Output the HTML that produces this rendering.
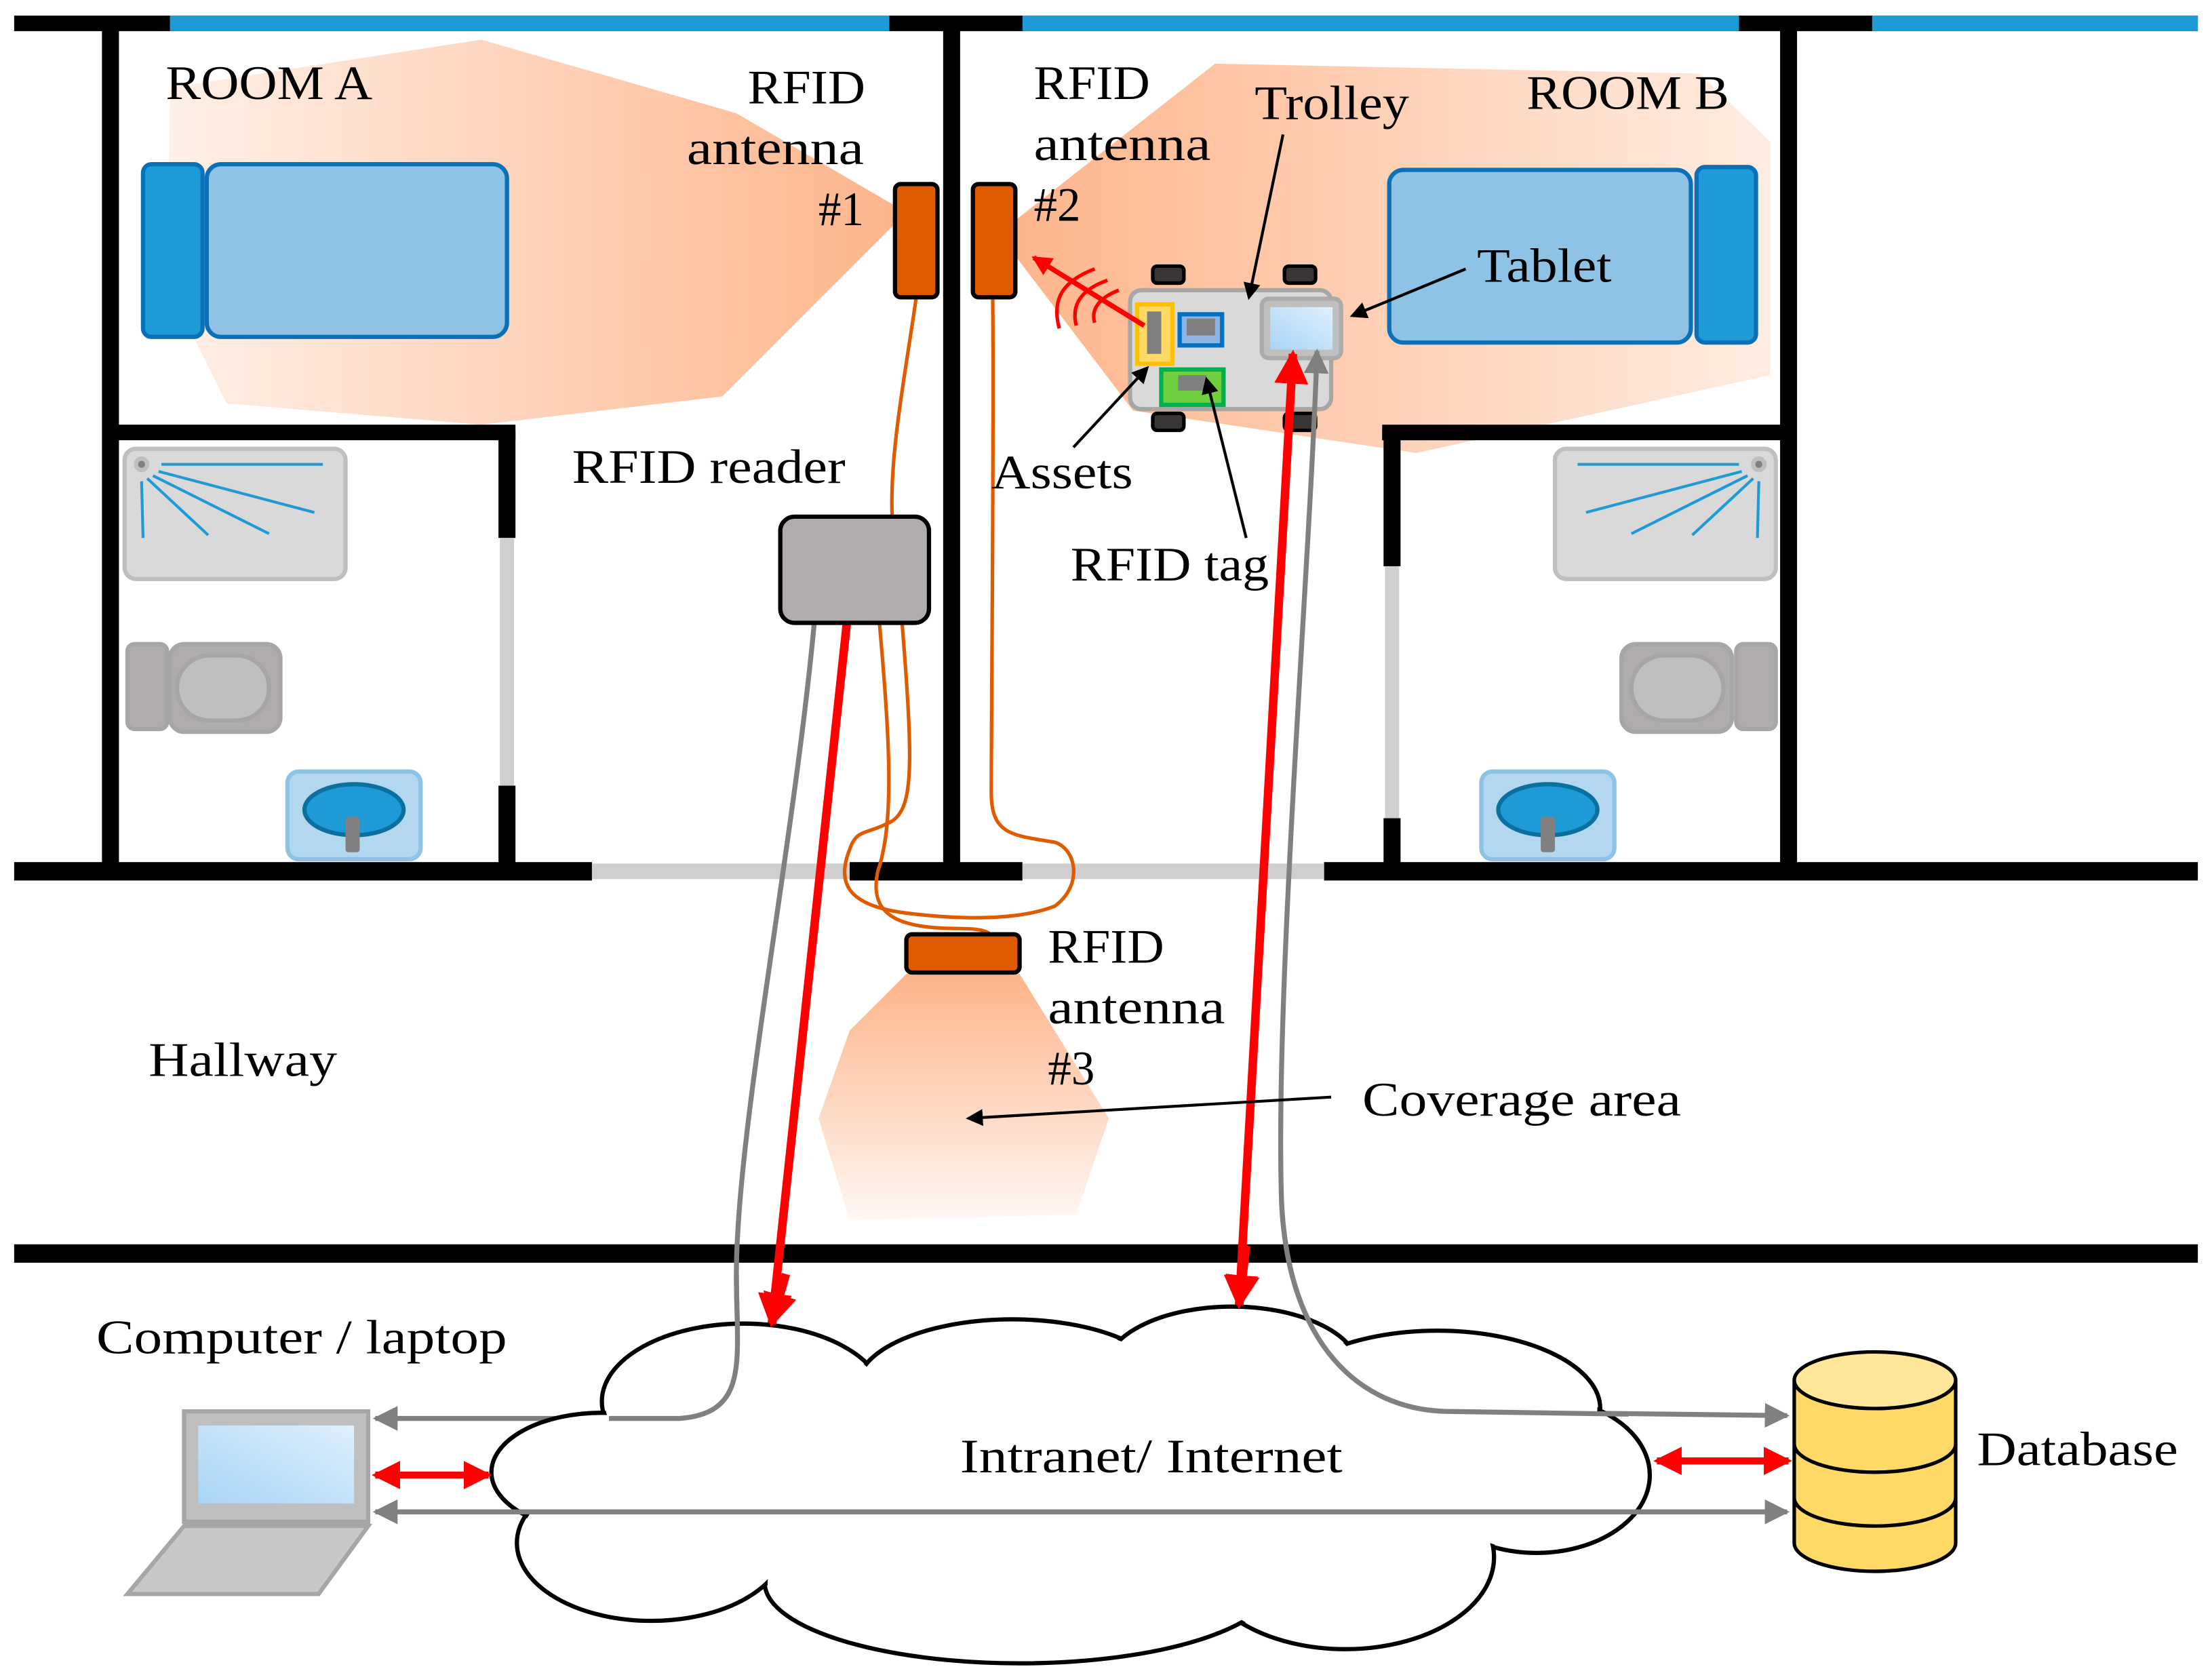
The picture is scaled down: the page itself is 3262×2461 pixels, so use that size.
<!DOCTYPE html>
<html><head><meta charset="utf-8"><style>html,body{margin:0;padding:0;background:#fff}svg{display:block}</style></head><body>
<svg width="3262" height="2461" viewBox="0 0 1562 1179" preserveAspectRatio="none" xmlns="http://www.w3.org/2000/svg" font-family="Liberation Serif, serif" font-size="34">
<defs>
<linearGradient id="gA" x1="1" y1="0" x2="0" y2="0"><stop offset="0" stop-color="#fdb48a"/><stop offset="1" stop-color="#fdb48a" stop-opacity="0.2"/></linearGradient>
<linearGradient id="gB" x1="0" y1="0" x2="1" y2="0"><stop offset="0" stop-color="#fdb48a"/><stop offset="1" stop-color="#fdb48a" stop-opacity="0.25"/></linearGradient>
<linearGradient id="gH" x1="0" y1="0" x2="0" y2="1"><stop offset="0" stop-color="#fdb48a"/><stop offset="1" stop-color="#fdb48a" stop-opacity="0.1"/></linearGradient>
<linearGradient id="scr" x1="0" y1="1" x2="1" y2="0"><stop offset="0" stop-color="#a9d4f5"/><stop offset="1" stop-color="#e0f0fc"/></linearGradient>
<marker id="ab" markerWidth="6" markerHeight="6" refX="5" refY="3" orient="auto-start-reverse" markerUnits="strokeWidth"><path d="M0,0 L6,3 L0,6 z" fill="#000"/></marker>
<marker id="ar" markerWidth="4" markerHeight="4" refX="3.5" refY="2" orient="auto-start-reverse" markerUnits="strokeWidth"><path d="M0,0 L4,2 L0,4 z" fill="#f00"/></marker>
<marker id="ag" markerWidth="5" markerHeight="5" refX="4.5" refY="2.5" orient="auto-start-reverse" markerUnits="strokeWidth"><path d="M0,0 L5,2.5 L0,5 z" fill="#808080"/></marker>
</defs>
<!-- coverage -->
<polygon points="120,62 340,28 520,80 640,150 510,280 340,300 160,285 118,200" fill="url(#gA)"/>
<polygon points="705,165 858,45 1200,52 1250,100 1250,265 1000,320 800,290" fill="url(#gB)"/>
<polygon points="640,688 720,688 783,790 760,858 600,862 578,790 600,728" fill="url(#gH)"/>
<!-- walls -->
<g fill="#000">
<rect x="10" y="11" width="1542" height="11"/>
<rect x="72" y="16" width="12" height="600"/>
<rect x="666" y="16" width="12" height="600"/>
<rect x="1257" y="16" width="12" height="600"/>
<rect x="78" y="300" width="286" height="11"/>
<rect x="352" y="305" width="12" height="75"/><rect x="352" y="555" width="12" height="60"/>
<rect x="976" y="300" width="290" height="11"/>
<rect x="977" y="305" width="12" height="95"/><rect x="977" y="578" width="12" height="38"/>
<rect x="10" y="609" width="408" height="13"/><rect x="600" y="609" width="122" height="13"/><rect x="935" y="609" width="617" height="13"/>
<rect x="10" y="879" width="1542" height="13"/>
</g>
<g fill="#1e9bd7"><rect x="120" y="11" width="508" height="11"/><rect x="722" y="11" width="506" height="11"/><rect x="1322" y="11" width="230" height="11"/></g>
<g fill="#d0cece"><rect x="418" y="610" width="182" height="11"/><rect x="722" y="610" width="213" height="11"/><rect x="353" y="380" width="10" height="175"/><rect x="978" y="400" width="10" height="178"/></g>
<!-- beds -->
<rect x="101" y="116" width="42" height="122" rx="6" fill="#1e9bd7" stroke="#0a70b8" stroke-width="3"/>
<rect x="146" y="116" width="212" height="122" rx="10" fill="#8fc3e6" stroke="#0a70b8" stroke-width="3"/>
<rect x="981" y="120" width="213" height="122" rx="10" fill="#8fc3e6" stroke="#0a70b8" stroke-width="3"/>
<rect x="1198" y="118" width="42" height="124" rx="6" fill="#1e9bd7" stroke="#0a70b8" stroke-width="3"/>
<!-- bathroom A -->
<rect x="88" y="317" width="156" height="92" rx="8" fill="#d9d9d9" stroke="#bfbfbf" stroke-width="3"/>
<circle cx="100" cy="328" r="4" fill="#808080" stroke="#bfbfbf" stroke-width="3"/>
<g stroke="#1e9bd7" stroke-width="2"><line x1="114" y1="328" x2="228" y2="328"/><line x1="112" y1="333" x2="222" y2="362"/><line x1="108" y1="336" x2="190" y2="377"/><line x1="104" y1="338" x2="147" y2="378"/><line x1="100" y1="340" x2="101" y2="380"/></g>
<rect x="90" y="455" width="28" height="60" rx="5" fill="#b0acab" stroke="#a6a6a6" stroke-width="3"/>
<rect x="120" y="455" width="78" height="62" rx="10" fill="#b0acab" stroke="#a6a6a6" stroke-width="3"/>
<rect x="125" y="463" width="65" height="46" rx="23" fill="#bfbfbf" stroke="#a6a6a6" stroke-width="3"/>
<rect x="203" y="545" width="94" height="62" rx="8" fill="#b3d7ef" stroke="#8fc3e6" stroke-width="3"/>
<ellipse cx="250" cy="572" rx="35" ry="18" fill="#1e9bd7" stroke="#0a70a0" stroke-width="3"/>
<rect x="244" y="577" width="10" height="25" rx="2" fill="#808080"/>
<!-- bathroom B -->
<rect x="1098" y="317" width="156" height="92" rx="8" fill="#d9d9d9" stroke="#bfbfbf" stroke-width="3"/>
<circle cx="1242" cy="328" r="4" fill="#808080" stroke="#bfbfbf" stroke-width="3"/>
<g stroke="#1e9bd7" stroke-width="2"><line x1="1228" y1="328" x2="1114" y2="328"/><line x1="1230" y1="333" x2="1120" y2="362"/><line x1="1234" y1="336" x2="1152" y2="377"/><line x1="1238" y1="338" x2="1195" y2="378"/><line x1="1242" y1="340" x2="1241" y2="380"/></g>
<rect x="1145" y="455" width="78" height="62" rx="10" fill="#b0acab" stroke="#a6a6a6" stroke-width="3"/>
<rect x="1152" y="463" width="65" height="46" rx="23" fill="#bfbfbf" stroke="#a6a6a6" stroke-width="3"/>
<rect x="1226" y="455" width="28" height="60" rx="5" fill="#b0acab" stroke="#a6a6a6" stroke-width="3"/>
<rect x="1046" y="545" width="94" height="62" rx="8" fill="#b3d7ef" stroke="#8fc3e6" stroke-width="3"/>
<ellipse cx="1093" cy="572" rx="35" ry="18" fill="#1e9bd7" stroke="#0a70a0" stroke-width="3"/>
<rect x="1088" y="577" width="10" height="25" rx="2" fill="#808080"/>
<!-- cables orange -->
<g fill="none" stroke="#e05a00" stroke-width="2.5">
<path d="M647,210 C640,260 628,320 630,365"/>
<path d="M621,440 C628,520 632,580 620,615 C612,650 640,656 680,656 C705,656 705,665 694,672"/>
<path d="M637,440 C645,540 645,570 630,580 C612,590 605,585 600,600 C590,625 600,640 640,645 C680,650 720,650 745,640 C765,625 760,600 745,595 C715,590 700,590 700,560 C700,500 702,300 701,210"/>
</g>
<!-- gray & red lines -->
<path d="M575,440 C560,600 520,800 520,900 C520,960 530,998 480,1002 L265,1002" fill="none" stroke="#808080" stroke-width="3.5" marker-end="url(#ag)"/>
<line x1="598" y1="440" x2="545" y2="935" stroke="#f00" stroke-width="6" marker-end="url(#ar)"/>
<!-- trolley -->
<g fill="#3a3636" stroke="#000" stroke-width="2.5"><rect x="814" y="188" width="22" height="12" rx="3"/><rect x="907" y="188" width="22" height="12" rx="3"/><rect x="814" y="292" width="22" height="12" rx="3"/><rect x="907" y="292" width="22" height="12" rx="3"/></g>
<rect x="798" y="205" width="142" height="84" rx="8" fill="#d9d9d9" stroke="#a6a6a6" stroke-width="3"/>
<rect x="891" y="211" width="56" height="42" rx="5" fill="#bfbfbf" stroke="#aeaaaa" stroke-width="3"/>
<rect x="897" y="217" width="44" height="30" fill="url(#scr)"/>
<rect x="803" y="215" width="25" height="42" fill="#ffd966" stroke="#ffc000" stroke-width="3"/><rect x="810" y="220" width="10" height="30" fill="#808080"/>
<rect x="833" y="222" width="30" height="22" fill="#8eb4e3" stroke="#0070c0" stroke-width="3"/><rect x="838" y="225" width="20" height="12" fill="#808080"/>
<rect x="820" y="261" width="44" height="25" fill="#6fcf3f" stroke="#00b050" stroke-width="3"/><rect x="832" y="265" width="20" height="11" fill="#808080"/>
<line x1="808" y1="230" x2="730" y2="182" stroke="#f00" stroke-width="3.5" marker-end="url(#ar)"/>
<g fill="none" stroke="#f00" stroke-width="2.5"><path d="M773,190 C752,198 742,210 748,232"/><path d="M782,198 C765,204 756,214 760,230"/><path d="M790,205 C777,210 770,218 773,228"/></g>
<path d="M930,248 C925,400 900,700 905,850 C910,950 960,995 1020,997 L1262,1000" fill="none" stroke="#808080" stroke-width="3.5" marker-start="url(#ag)" marker-end="url(#ag)"/>
<line x1="913" y1="250" x2="875" y2="922" stroke="#f00" stroke-width="6" marker-start="url(#ar)" marker-end="url(#ar)"/>
<!-- cloud -->
<g stroke="#000" stroke-width="3" fill="#fff">
<ellipse cx="525" cy="990" rx="100" ry="55"/><ellipse cx="715" cy="980" rx="110" ry="48"/><ellipse cx="870" cy="968" rx="90" ry="45"/><ellipse cx="1015" cy="995" rx="115" ry="55"/><ellipse cx="1085" cy="1042" rx="80" ry="55"/><ellipse cx="950" cy="1100" rx="105" ry="65"/><ellipse cx="720" cy="1118" rx="180" ry="57"/><ellipse cx="460" cy="1090" rx="95" ry="55"/><ellipse cx="425" cy="1040" rx="78" ry="42"/>
</g>
<g fill="#fff"><ellipse cx="525" cy="990" rx="98" ry="53"/><ellipse cx="715" cy="980" rx="108" ry="46"/><ellipse cx="870" cy="968" rx="88" ry="43"/><ellipse cx="1015" cy="995" rx="113" ry="53"/><ellipse cx="1085" cy="1042" rx="78" ry="53"/><ellipse cx="950" cy="1100" rx="103" ry="63"/><ellipse cx="720" cy="1118" rx="178" ry="55"/><ellipse cx="460" cy="1090" rx="93" ry="53"/><ellipse cx="425" cy="1040" rx="76" ry="40"/><ellipse cx="750" cy="1045" rx="320" ry="75"/></g>
<path d="M520,900 C520,960 530,998 480,1002 L430,1002" fill="none" stroke="#808080" stroke-width="3.5"/>
<path d="M905,850 C910,950 960,995 1020,997 L1150,999" fill="none" stroke="#808080" stroke-width="3.5"/>
<path d="M555,900 L545,935" stroke="#f00" stroke-width="6" marker-end="url(#ar)"/>
<path d="M880,880 L875,922" stroke="#f00" stroke-width="6" marker-end="url(#ar)"/>
<line x1="265" y1="1068" x2="1262" y2="1068" stroke="#808080" stroke-width="3.5" marker-start="url(#ag)" marker-end="url(#ag)"/>
<line x1="265" y1="1042" x2="345" y2="1042" stroke="#f00" stroke-width="5" marker-start="url(#ar)" marker-end="url(#ar)"/>
<line x1="1170" y1="1032" x2="1263" y2="1032" stroke="#f00" stroke-width="5" marker-start="url(#ar)" marker-end="url(#ar)"/>
<!-- antennas, reader -->
<rect x="632" y="130" width="30" height="80" rx="4" fill="#e05a00" stroke="#000" stroke-width="3"/>
<rect x="687" y="130" width="30" height="80" rx="4" fill="#e05a00" stroke="#000" stroke-width="3"/>
<rect x="640" y="660" width="80" height="27" rx="4" fill="#e05a00" stroke="#000" stroke-width="3"/>
<rect x="551" y="365" width="105" height="75" rx="10" fill="#b0acab" stroke="#000" stroke-width="3"/>
<!-- laptop -->
<rect x="130" y="997" width="130" height="78" fill="#bfbfbf" stroke="#a6a6a6" stroke-width="3"/>
<rect x="140" y="1007" width="110" height="55" fill="url(#scr)"/>
<polygon points="130,1078 260,1078 225,1126 90,1126" fill="#c8c8c8" stroke="#a6a6a6" stroke-width="3"/>
<!-- database -->
<g stroke="#000" stroke-width="2.5">
<path d="M1267,975 L1267,1090 A57,20 0 0 0 1381,1090 L1381,975" fill="#ffd966"/>
<path d="M1267,1020 A57,20 0 0 0 1381,1020 M1267,1058 A57,20 0 0 0 1381,1058" fill="none"/>
<ellipse cx="1324" cy="975" rx="57" ry="20" fill="#ffe699"/>
</g>
<!-- black pointer arrows -->
<g stroke="#000" stroke-width="2" marker-end="url(#ab)">
<line x1="906" y1="95" x2="882" y2="210"/>
<line x1="1035" y1="190" x2="955" y2="223"/>
<line x1="758" y1="316" x2="810" y2="260"/>
<line x1="880" y1="380" x2="852" y2="268"/>
<line x1="940" y1="775" x2="684" y2="790"/>
</g>
<!-- text -->
<g fill="#000" lengthAdjust="spacingAndGlyphs">
<text x="117" y="70" textLength="146" lengthAdjust="spacingAndGlyphs">ROOM A</text>
<text x="528" y="73" textLength="83" lengthAdjust="spacingAndGlyphs">RFID</text><text x="485" y="116" textLength="125" lengthAdjust="spacingAndGlyphs">antenna</text><text x="578" y="159" textLength="32" lengthAdjust="spacingAndGlyphs">#1</text>
<text x="730" y="70" textLength="82" lengthAdjust="spacingAndGlyphs">RFID</text><text x="730" y="113" textLength="125" lengthAdjust="spacingAndGlyphs">antenna</text><text x="730" y="156" textLength="33" lengthAdjust="spacingAndGlyphs">#2</text>
<text x="886" y="84" textLength="109" lengthAdjust="spacingAndGlyphs">Trolley</text>
<text x="1078" y="77" textLength="143" lengthAdjust="spacingAndGlyphs">ROOM B</text>
<text x="1043" y="199" textLength="95" lengthAdjust="spacingAndGlyphs">Tablet</text>
<text x="404" y="341" textLength="193" lengthAdjust="spacingAndGlyphs">RFID reader</text>
<text x="700" y="345" textLength="100" lengthAdjust="spacingAndGlyphs">Assets</text>
<text x="756" y="410" textLength="140" lengthAdjust="spacingAndGlyphs">RFID tag</text>
<text x="740" y="680" textLength="82" lengthAdjust="spacingAndGlyphs">RFID</text><text x="740" y="723" textLength="125" lengthAdjust="spacingAndGlyphs">antenna</text><text x="740" y="766" textLength="33" lengthAdjust="spacingAndGlyphs">#3</text>
<text x="105" y="760" textLength="133" lengthAdjust="spacingAndGlyphs">Hallway</text>
<text x="962" y="788" textLength="225" lengthAdjust="spacingAndGlyphs">Coverage area</text>
<text x="68" y="956" textLength="290" lengthAdjust="spacingAndGlyphs">Computer / laptop</text>
<text x="678" y="1040" textLength="270" lengthAdjust="spacingAndGlyphs">Intranet/ Internet</text>
<text x="1396" y="1035" textLength="142" lengthAdjust="spacingAndGlyphs">Database</text>
</g>
</svg>
</body></html>
